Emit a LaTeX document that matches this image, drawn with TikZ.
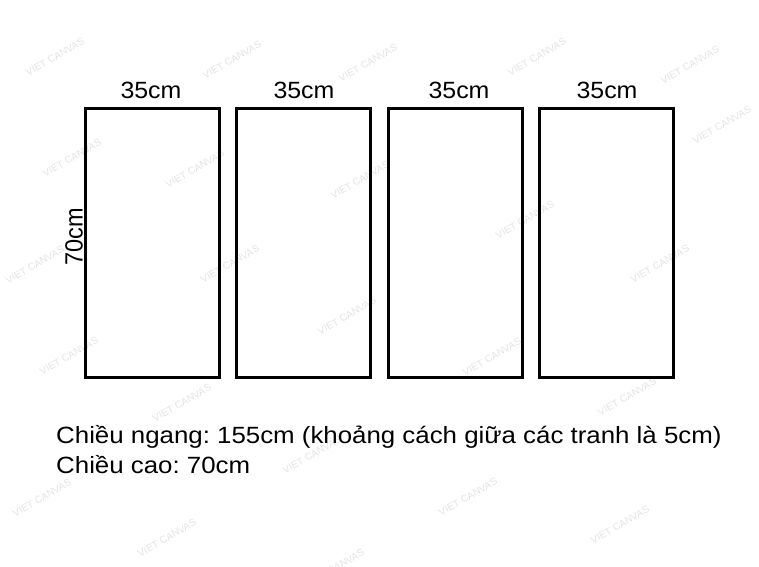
\documentclass[tikz,border=0pt]{standalone}
\usepackage{fontspec}
\setmainfont{Liberation Sans}
\frenchspacing
\usetikzlibrary{positioning}
\tikzset{
  panel/.style={draw, line width=3pt, minimum width=134pt, minimum height=268.5pt, inner sep=0pt},
  dimlabel/.style={font=\fontsize{23.5}{27}\selectfont, xscale=1.06, inner sep=0pt},
  info/.style={font=\fontsize{23.5}{27}\selectfont, xscale=1.1, anchor=west, inner sep=0pt},
  wm/.style={text=gray!22, font=\fontsize{10}{12}\selectfont, rotate=30, inner sep=0pt}
}
\begin{document}
\begin{tikzpicture}[x=1pt,y=1pt]
\useasboundingbox (0,0) rectangle (759,566);
%\draw[step=50,gray,very thin] (0,0) grid (759,566); %background grid
% watermark
\node[wm] (v1) at (55,509) {VIET CANVAS};
\node[wm] (v2) at (232,506) {VIET CANVAS};
\node[wm] (v3) at (368,503) {VIET CANVAS};
\node[wm] (v4) at (537,509) {VIET CANVAS};
\node[wm] (v5) at (690,501) {VIET CANVAS};
\node[wm] (v6) at (722,441) {VIET CANVAS};
\node[wm] (v7) at (72,408) {VIET CANVAS};
\node[wm] (v8) at (195,397) {VIET CANVAS};
\node[wm] (v9) at (360,386) {VIET CANVAS};
\node[wm] (v10) at (35,301) {VIET CANVAS};
\node[wm] (v11) at (230,302) {VIET CANVAS};
\node[wm] (v12) at (347,250) {VIET CANVAS};
\node[wm] (v13) at (525,346) {VIET CANVAS};
\node[wm] (v14) at (660,302) {VIET CANVAS};
\node[wm] (v15) at (69,210) {VIET CANVAS};
\node[wm] (v16) at (492,209) {VIET CANVAS};
\node[wm] (v17) at (182,163) {VIET CANVAS};
\node[wm] (v18) at (627,169) {VIET CANVAS};
\node[wm] (v19) at (312,111) {VIET CANVAS};
\node[wm] (v20) at (42,68) {VIET CANVAS};
\node[wm] (v21) at (468,69) {VIET CANVAS};
\node[wm] (v22) at (167,28) {VIET CANVAS};
\node[wm] (v23) at (620,41) {VIET CANVAS};
\node[wm] (v24) at (335,-2) {VIET CANVAS};
% panels
\node[panel] (p1) at (152,322.75) {};
\node[panel] (p2) at (303.6,322.75) {};
\node[panel] (p3) at (455.2,322.75) {};
\node[panel] (p4) at (606.8,322.75) {};
% dimensions
\node[dimlabel] (w1) at (151,476) {35cm};
\node[dimlabel] (w2) at (304,476) {35cm};
\node[dimlabel] (w3) at (459,476) {35cm};
\node[dimlabel] (w4) at (607,476) {35cm};
\node[dimlabel, rotate=90] (h1) at (74,329) {70cm};
% text
\node[info] (t1) at (56,129) {Chiều ngang: 155cm (khoảng cách giữa các tranh là 5cm)};
\node[info] (t2) at (56,101) {Chiều cao: 70cm};
\end{tikzpicture}
\end{document}
